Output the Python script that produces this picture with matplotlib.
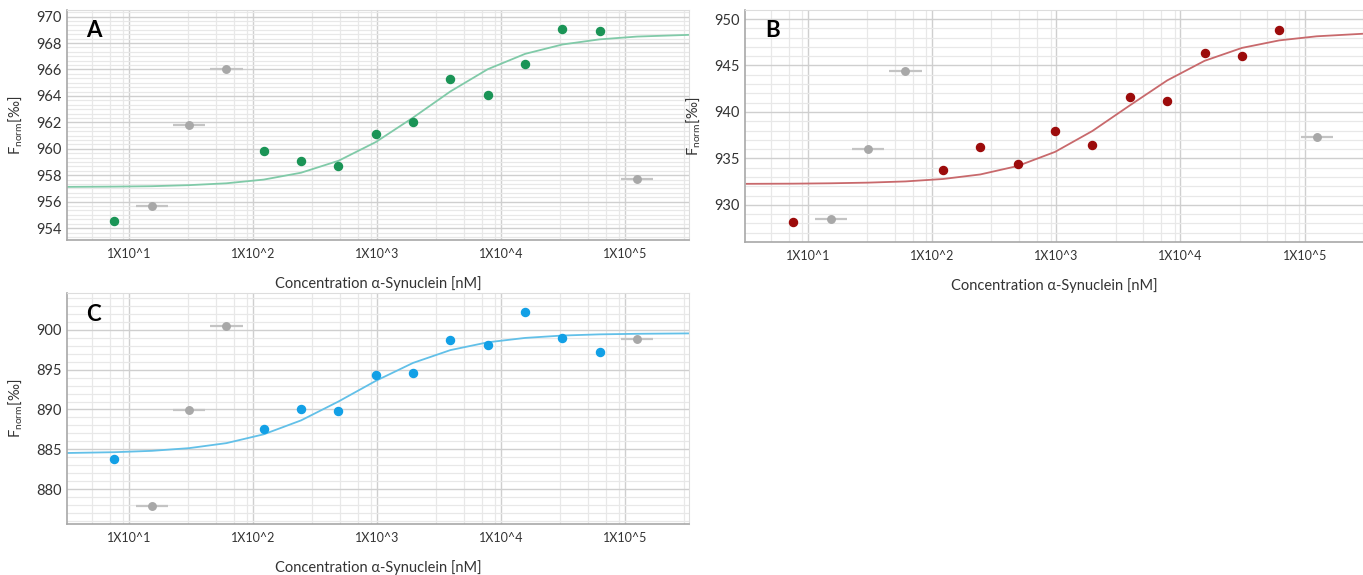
import numpy as np
import matplotlib
matplotlib.use("Agg")
import matplotlib.pyplot as plt
from matplotlib.ticker import FixedLocator, MultipleLocator, NullFormatter

plt.rcParams['font.family'] = ['Lato', 'DejaVu Sans']
plt.rcParams['mathtext.fontset'] = 'custom'
plt.rcParams['mathtext.rm'] = 'Lato'

# serial dilution of alpha-synuclein [nM]
conc = [7.63, 15.26, 30.5, 61, 122, 244, 488, 977, 1953, 3906, 7812,
        15625, 31250, 62500, 125000]

# Fnorm values
vals_a = [954.5, 955.7, 961.8, 966.05, 959.8, 959.05, 958.7, 961.15, 962.0,
          965.3, 964.1, 966.4, 969.05, 968.9, 957.7]
vals_b = [928.1, 928.45, 936.05, 944.4, 933.75, 936.25, 934.35, 937.95, 936.4,
          941.6, 941.2, 946.3, 946.05, 948.85, 937.35]
vals_c = [883.8, 877.9, 889.9, 900.45, 887.6, 890.0, 889.8, 894.4, 894.6,
          898.7, 898.1, 902.2, 899.0, 897.2, 898.85]

# points left out of the fit (drawn grey)
excl_a = [1, 2, 3, 14]
excl_b = [1, 2, 3, 14]
excl_c = [1, 2, 3, 14]

# fit curves, read at the dilution steps plus the axis ends
fit_x = [3.2] + conc + [330000]
fit_a = [957.12, 957.14, 957.17, 957.25, 957.39, 957.67, 958.19, 959.09, 960.51,
         962.36, 964.34, 966.02, 967.18, 967.89, 968.28, 968.49, 968.62]
fit_b = [932.26, 932.28, 932.32, 932.39, 932.52, 932.78, 933.27, 934.18, 935.70,
         937.95, 940.70, 943.39, 945.50, 946.89, 947.70, 948.14, 948.45]
fit_c = [884.53, 884.63, 884.80, 885.14, 885.77, 886.88, 888.63, 891.00, 893.60,
         895.86, 897.47, 898.45, 899.00, 899.30, 899.45, 899.52, 899.57]

XERR_FACTOR = 1.35

xlabels_pos = [10, 100, 1000, 10000, 100000]
xlabels_txt = ["1X10^1", "1X10^2", "1X10^3", "1X10^4", "1X10^5"]
minor_x = [m * 10 ** e for e in range(0, 6) for m in (3, 5, 7, 9)]

W, H = 1363, 575
fig = plt.figure(figsize=(W / 100, H / 100), dpi=100)


def make_panel(rect, letter, vals, excl, fit_y, xlim, ylim, ymajor, yminor,
               dot_col, line_col, letter_xy):
    ax = fig.add_axes(rect)
    ax.set_xscale('log')
    ax.set_xlim(*xlim)
    ax.set_ylim(*ylim)
    ax.xaxis.set_major_locator(FixedLocator(xlabels_pos))
    ax.set_xticklabels(xlabels_txt)
    ax.xaxis.set_minor_locator(FixedLocator(minor_x))
    ax.xaxis.set_minor_formatter(NullFormatter())
    ax.yaxis.set_major_locator(MultipleLocator(ymajor))
    ax.yaxis.set_minor_locator(MultipleLocator(yminor))
    ax.grid(True, which='major', color='#cfcfcf', lw=1.0, zorder=0)
    ax.grid(True, which='minor', color='#e8e8e8', lw=0.9, zorder=0)
    ax.set_axisbelow(True)
    ax.tick_params(which='both', length=0)
    ax.tick_params(axis='x', labelsize=9, pad=6, colors='#333333')
    ax.tick_params(axis='y', labelsize=10.5, pad=4, colors='#333333')
    for s in ('left', 'bottom'):
        ax.spines[s].set_color('#a8a8a8')
        ax.spines[s].set_linewidth(1.2)
    for s in ('top', 'right'):
        ax.spines[s].set_color('#dddddd')

    x = np.array(conc)
    y = np.array(vals)
    keep = np.array([i not in excl for i in range(len(conc))])

    ax.plot(fit_x, fit_y, color=line_col, lw=1.3, zorder=2)
    ax.errorbar(x[~keep], y[~keep],
                xerr=[x[~keep] - x[~keep] / XERR_FACTOR, x[~keep] * XERR_FACTOR - x[~keep]],
                fmt='o', color='#a8a8a8', ecolor='#c4c4c4', elinewidth=1.6,
                ms=5.4, capsize=0, zorder=3)
    ax.plot(x[keep], y[keep], 'o', color=dot_col, ms=5.8, mec=dot_col, zorder=4)

    ax.text(letter_xy[0], letter_xy[1], letter, transform=ax.transAxes,
            fontsize=16, fontweight='bold', ha='center', va='center')
    ax.set_xlabel("Concentration α-Synuclein [nM]", fontsize=10.5, labelpad=11,
                  color='#333333')
    ax.set_ylabel(r"F$_{\mathrm{norm}}$[‰]", fontsize=10.5, labelpad=8,
                  color='#333333')
    return ax


make_panel([67 / W, 1 - 240 / H, 622 / W, 230 / H], "A", vals_a, excl_a, fit_a,
           (3.16, 3.28e5), (953.1, 970.5), 2, 1 / 3,
           '#1a9456', '#80caa8', (0.043, 0.913))
make_panel([745 / W, 1 - 242 / H, 618 / W, 232 / H], "B", vals_b, excl_b, fit_b,
           (3.11, 2.95e5), (926.0, 950.97), 5, 1,
           '#9c0b0b', '#c8696c', (0.045, 0.912))
make_panel([67 / W, 1 - 524 / H, 622 / W, 231 / H], "C", vals_c, excl_c, fit_c,
           (3.16, 3.28e5), (875.6, 904.65), 5, 1,
           '#12a0e6', '#62c0e8', (0.043, 0.909))

fig.savefig("out.png", dpi=100)
